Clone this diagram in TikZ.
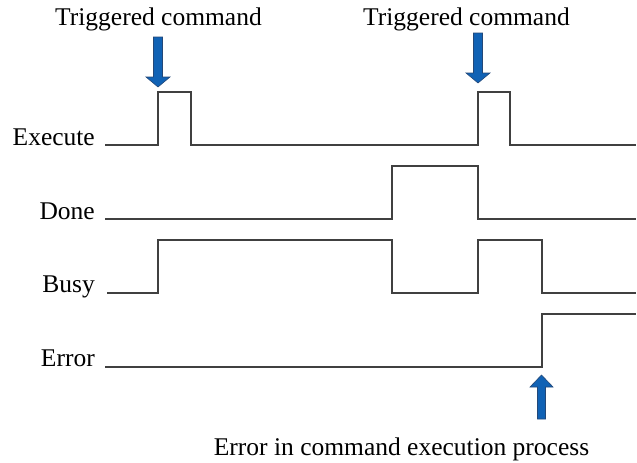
\documentclass[tikz,border=0pt]{standalone}
\usepackage{fontspec}
\setmainfont{Liberation Serif}
\definecolor{sig}{RGB}{64,64,64}
\definecolor{arrfill}{RGB}{16,98,181}
\definecolor{arrdraw}{RGB}{35,72,120}
\begin{document}
\begin{tikzpicture}[x=1pt,y=-1pt,
  wave/.style={draw=sig,line width=2.6pt,line join=miter},
  lbl/.style={font=\fontsize{25.5}{28}\selectfont,inner sep=0pt,anchor=base east},
  ttl/.style={font=\fontsize{25.5}{28}\selectfont,inner sep=0pt,anchor=base},
  blk/.style={fill=arrfill,draw=arrdraw,line width=0.6pt,line join=miter}]
\useasboundingbox (0,0) rectangle (637,463);
% labels
\node[lbl] (lexe) at (95,145) {Execute};
\node[lbl] (ldone) at (95,219) {Done};
\node[lbl] (lbusy) at (95,292) {Busy};
\node[lbl] (lerr) at (95,366) {Error};
\node[ttl] (t1) at (158.5,25) {Triggered command};
\node[ttl] (t2) at (466.5,25) {Triggered command};
\node[ttl] (t3) at (401.5,455) {Error in command execution process};
% waveforms
\draw[wave] (105,145) -- (158,145) -- (158,92) -- (191,92) -- (191,145) -- (478,145) -- (478,92) -- (510,92) -- (510,145) -- (636,145);
\draw[wave] (105,219) -- (392,219) -- (392,166) -- (478,166) -- (478,219) -- (636,219);
\draw[wave] (107,293) -- (158,293) -- (158,240) -- (392,240) -- (392,293) -- (478,293) -- (478,240) -- (542,240) -- (542,293) -- (636,293);
\draw[wave] (105,367) -- (542,367) -- (542,314) -- (636,314);
% arrows
\draw[blk] (153.5,37) -- (162.5,37) -- (162.5,77) -- (170,77) -- (158,87) -- (146,77) -- (153.5,77) -- cycle;
\draw[blk] (473.5,33) -- (482.5,33) -- (482.5,73) -- (490,73) -- (478,83) -- (466,73) -- (473.5,73) -- cycle;
\draw[blk] (537.5,419) -- (545.5,419) -- (545.5,387) -- (553,387) -- (541.5,375) -- (530,387) -- (537.5,387) -- cycle;
\end{tikzpicture}
\end{document}
